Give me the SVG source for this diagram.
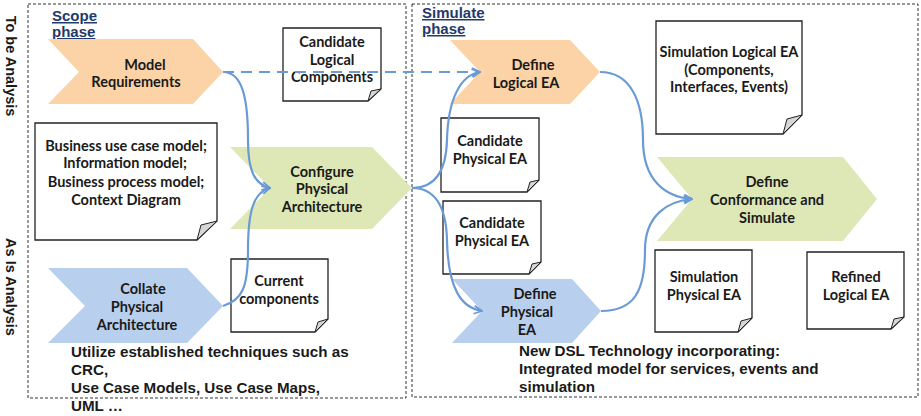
<svg xmlns="http://www.w3.org/2000/svg" width="921" height="416" viewBox="0 0 921 416">
<defs>
<style>
.frame{fill:none;stroke:#333;stroke-width:1;stroke-dasharray:3,2}
.orange{fill:#FBD3A7}
.green{fill:#DEE8B6}
.blue{fill:#B8CFED}
.note{fill:#fff;stroke:#222;stroke-width:1.3}
.fold{fill:#D6D6D6;stroke:#222;stroke-width:1}
.t{font-family:"Lato","Open Sans",sans-serif;font-weight:bold;font-size:14.5px;fill:#1a1a1a;text-anchor:middle}
.a{font-family:"Liberation Sans",Arial,sans-serif;font-weight:bold;font-size:15.2px;fill:#1a1a1a}
.side{font-family:"Liberation Sans",Arial,sans-serif;font-weight:bold;font-size:14.5px;fill:#1a1a1a;text-anchor:middle}
.phase{font-family:"Liberation Sans",Arial,sans-serif;font-weight:bold;font-size:15px;fill:#1F3A6B;text-decoration:underline}
.c{fill:none;stroke:#6A9BD4;stroke-width:2.2}
.d{stroke-dasharray:11,7}
</style>
<marker id="ah" viewBox="0 0 10 10" refX="9" refY="5" markerWidth="10" markerHeight="10" markerUnits="userSpaceOnUse" orient="auto">
<path d="M1,1 L9,5 L1,9" fill="none" stroke="#6A9BD4" stroke-width="1.8"/>
</marker>
</defs>
<rect width="921" height="416" fill="#fff"/>

<g id="frames">
<rect class="frame" x="28" y="4" width="378" height="394"/>
<rect class="frame" x="412" y="4" width="506" height="393"/>
</g>

<g id="labels">
<text class="side" transform="translate(6,66) rotate(90)">To be Analysis</text>
<text class="side" transform="translate(6,287) rotate(90)">As Is Analysis</text>
<text class="phase" x="52" y="21">Scope</text>
<text class="phase" x="52" y="37">phase</text>
<text class="phase" x="422" y="18">Simulate</text>
<text class="phase" x="422" y="34">phase</text>
<text class="a" x="71" y="357">Utilize established techniques such as</text>
<text class="a" x="71" y="375">CRC,</text>
<text class="a" x="71" y="393">Use Case Models, Use Case Maps,</text>
<text class="a" x="71" y="411">UML …</text>
<text class="a" x="519" y="356">New DSL Technology incorporating:</text>
<text class="a" x="519" y="374">Integrated model for services, events and</text>
<text class="a" x="519" y="392">simulation</text>
</g>

<g id="model-requirements">
<path class="orange" d="M48,39 L193,39 L223,72 L193,104 L48,104 L79,72 Z"/>
<text class="t" x="145" y="70">Model</text>
<text class="t" x="136" y="87">Requirements</text>
</g>

<g id="candidate-logical-components">
<path class="note" d="M283,28 H381 V89 L368,101 H283 Z"/>
<path class="fold" d="M368,101 L371,91 L381,89 Z"/>
<text class="t" x="332" y="47">Candidate</text>
<text class="t" x="332" y="65">Logical</text>
<text class="t" x="332" y="82">Components</text>
</g>

<g id="business-models">
<path class="note" d="M35,123 H217 V221 L197,240 H35 Z"/>
<path class="fold" d="M197,240 L201,225 L217,221 Z"/>
<text class="t" x="126" y="151">Business use case model;</text>
<text class="t" x="125" y="168">Information model;</text>
<text class="t" x="126" y="187">Business process model;</text>
<text class="t" x="126" y="205">Context Diagram</text>
</g>

<g id="configure-physical-architecture">
<path class="green" d="M230,147 L372,147 L412,188 L372,229 L230,229 L270,188 Z"/>
<text class="t" x="322" y="177">Configure</text>
<text class="t" x="322" y="194">Physical</text>
<text class="t" x="322" y="211.5">Architecture</text>
</g>

<g id="collate-physical-architecture">
<path class="blue" d="M48,268 L187,268 L223,306 L187,343 L48,343 L85,306 Z"/>
<text class="t" x="143" y="294">Collate</text>
<text class="t" x="137" y="312">Physical</text>
<text class="t" x="137" y="330">Architecture</text>
</g>

<g id="current-components">
<path class="note" d="M231,259 H328 V319 L315,332 H231 Z"/>
<path class="fold" d="M315,332 L318,322 L328,319 Z"/>
<text class="t" x="279" y="286">Current</text>
<text class="t" x="279" y="304">components</text>
</g>

<g id="define-logical-ea">
<path class="orange" d="M450,40 L570,40 L600,72 L570,104 L450,104 L480,72 Z"/>
<text class="t" x="533" y="70">Define</text>
<text class="t" x="526" y="88">Logical EA</text>
</g>

<g id="candidate-physical-ea-1">
<path class="note" d="M441,118 H539 V180 L527,192 H441 Z"/>
<path class="fold" d="M527,192 L530,182 L539,180 Z"/>
<text class="t" x="490" y="146">Candidate</text>
<text class="t" x="490" y="164">Physical EA</text>
</g>

<g id="candidate-physical-ea-2">
<path class="note" d="M443,201 H541 V262 L529,274 H443 Z"/>
<path class="fold" d="M529,274 L532,264 L541,262 Z"/>
<text class="t" x="492" y="228">Candidate</text>
<text class="t" x="492" y="246">Physical EA</text>
</g>

<g id="define-physical-ea">
<path class="blue" d="M452,279 L572,279 L601,311 L572,343 L452,343 L482,311 Z"/>
<text class="t" x="535" y="299">Define</text>
<text class="t" x="527" y="317">Physical</text>
<text class="t" x="527" y="335">EA</text>
</g>

<g id="simulation-logical-ea">
<path class="note" d="M656,21 H802 V115 L783,134 H656 Z"/>
<path class="fold" d="M783,134 L787,119 L802,115 Z"/>
<text class="t" x="729" y="57">Simulation Logical EA</text>
<text class="t" x="729" y="75">(Components,</text>
<text class="t" x="729" y="92">Interfaces, Events)</text>
</g>

<g id="define-conformance-and-simulate">
<path class="green" d="M657,157 L843,157 L877,199 L843,241 L657,241 L692,199 Z"/>
<text class="t" x="767" y="187">Define</text>
<text class="t" x="767" y="205">Conformance and</text>
<text class="t" x="767" y="223">Simulate</text>
</g>

<g id="simulation-physical-ea">
<path class="note" d="M655,250 H752 V318 L738,332 H655 Z"/>
<path class="fold" d="M738,332 L741,321 L752,318 Z"/>
<text class="t" x="704" y="282">Simulation</text>
<text class="t" x="704" y="300">Physical EA</text>
</g>

<g id="refined-logical-ea">
<path class="note" d="M807,252 H904 V317 L891,329 H807 Z"/>
<path class="fold" d="M891,329 L894,319 L904,317 Z"/>
<text class="t" x="856" y="282">Refined</text>
<text class="t" x="856" y="300">Logical EA</text>
</g>

<g id="connectors">
<path class="c d" d="M223,72 L480,72" marker-end="url(#ah)"/>
<path class="c" d="M223,72 C243,72 248,100 248,140 C248,170 254,184 270,188" marker-end="url(#ah)"/>
<path class="c" d="M223,306 C242,300 248,288 248,250 C248,210 254,192 270,188" marker-end="url(#ah)"/>
<path class="c" d="M412,188 C432,188 446,175 447,140 C448,100 460,75 480,72" marker-end="url(#ah)"/>
<path class="c" d="M412,188 C432,188 446,202 447,240 C448,290 462,308 482,311" marker-end="url(#ah)"/>
<path class="c" d="M600,72 C630,72 643,100 643,140 C643,180 665,197 692,199" marker-end="url(#ah)"/>
<path class="c" d="M601,311 C635,311 645,290 645,250 C645,215 668,201 692,199" marker-end="url(#ah)"/>
</g>
</svg>
